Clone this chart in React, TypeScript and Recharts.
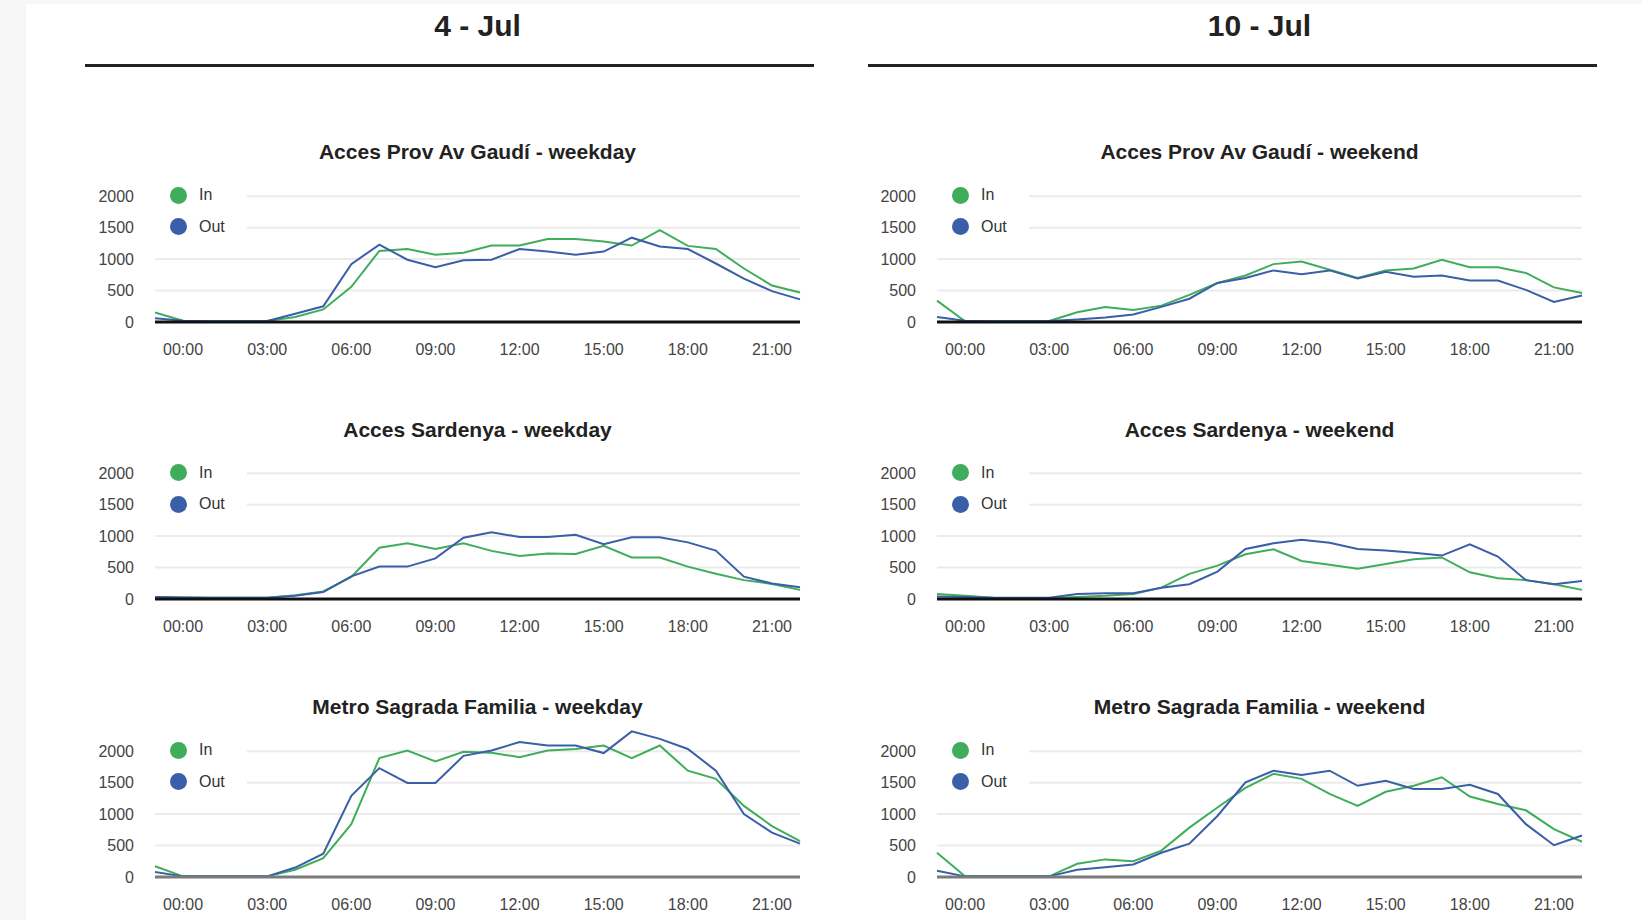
import React from "react";
import { LineChart, Line, XAxis, YAxis, CartesianGrid, Legend } from "recharts";

// hourly samples, first one is 23:00 of the previous day
const HOURS = [-1, 0, 1, 2, 3, 4, 5, 6, 7, 8, 9, 10, 11, 12, 13, 14, 15, 16, 17, 18, 19, 20, 21, 22];
const X_TICKS = [0, 3, 6, 9, 12, 15, 18, 21];
const Y_TICKS = [0, 500, 1000, 1500, 2000];
const DATES = ["4 - Jul", "10 - Jul"];

const GAUDI_WEEKDAY_IN = [150, 20, 10, 10, 15, 80, 200, 560, 1130, 1160, 1070, 1100, 1215, 1215, 1320, 1320, 1280, 1215, 1460, 1210, 1160, 850, 580, 470];
const GAUDI_WEEKDAY_OUT = [60, 20, 10, 10, 15, 130, 250, 920, 1230, 990, 870, 980, 990, 1160, 1120, 1070, 1120, 1340, 1200, 1160, 930, 690, 490, 360];
const GAUDI_WEEKEND_IN = [340, 10, 10, 10, 15, 155, 240, 190, 260, 430, 620, 740, 920, 960, 830, 700, 820, 850, 990, 870, 870, 780, 550, 460];
const GAUDI_WEEKEND_OUT = [80, 20, 10, 10, 15, 40, 70, 120, 240, 370, 620, 700, 820, 760, 820, 690, 800, 720, 740, 660, 660, 510, 320, 420];

const SARDENYA_WEEKDAY_IN = [30, 25, 20, 20, 20, 60, 120, 350, 815, 885, 795, 885, 765, 685, 725, 715, 845, 660, 660, 515, 400, 300, 240, 145];
const SARDENYA_WEEKDAY_OUT = [30, 25, 20, 20, 20, 50, 110, 360, 515, 515, 645, 975, 1060, 985, 985, 1020, 870, 980, 980, 900, 770, 355, 245, 185];
const SARDENYA_WEEKEND_IN = [80, 50, 20, 15, 15, 30, 50, 80, 180, 400, 530, 710, 790, 605, 545, 480, 555, 630, 660, 425, 330, 300, 235, 145];
const SARDENYA_WEEKEND_OUT = [40, 30, 20, 20, 20, 80, 90, 90, 180, 235, 435, 795, 885, 940, 895, 795, 770, 735, 690, 870, 675, 300, 235, 285];

const METRO_WEEKDAY_IN = [170, 10, 10, 10, 10, 115, 300, 840, 1890, 2010, 1835, 1990, 1975, 1905, 2010, 2035, 2090, 1890, 2090, 1690, 1560, 1130, 810, 570];
const METRO_WEEKDAY_OUT = [80, 10, 10, 10, 10, 150, 370, 1290, 1730, 1495, 1495, 1925, 2010, 2145, 2090, 2090, 1970, 2315, 2195, 2035, 1690, 1000, 705, 530];
const METRO_WEEKEND_IN = [385, 10, 10, 10, 10, 210, 280, 250, 420, 785, 1105, 1415, 1640, 1560, 1320, 1130, 1355, 1450, 1585, 1280, 1160, 1060, 760, 560];
const METRO_WEEKEND_OUT = [100, 10, 10, 10, 10, 115, 155, 200, 385, 530, 970, 1505, 1690, 1620, 1690, 1450, 1530, 1400, 1400, 1465, 1320, 840, 505, 660];

const GREEN = "#3fad5b";
const BLUE = "#3a5ea8";
const FONT = '"Liberation Sans", Arial, Helvetica, sans-serif';

// layout (px)
const PLOT_W = 645;
const PLOT_H = 151; // 0 .. 2400
const Y_MAX = 2400;
const AXIS_W = 75;
const M_TOP = 10;
const M_RIGHT = 20;
const X_AXIS_H = 40;
const COL_PLOT_LEFT = [155, 937];
const ROW_ZERO_Y = [321.5, 599, 876.5];

const CHARTS = [
    { title: "Acces Prov Av Gaudí - weekday", col: 0, row: 0, inData: GAUDI_WEEKDAY_IN, outData: GAUDI_WEEKDAY_OUT, base: "#111" },
    { title: "Acces Prov Av Gaudí - weekend", col: 1, row: 0, inData: GAUDI_WEEKEND_IN, outData: GAUDI_WEEKEND_OUT, base: "#111" },
    { title: "Acces Sardenya - weekday", col: 0, row: 1, inData: SARDENYA_WEEKDAY_IN, outData: SARDENYA_WEEKDAY_OUT, base: "#111" },
    { title: "Acces Sardenya - weekend", col: 1, row: 1, inData: SARDENYA_WEEKEND_IN, outData: SARDENYA_WEEKEND_OUT, base: "#111" },
    { title: "Metro Sagrada Familia - weekday", col: 0, row: 2, inData: METRO_WEEKDAY_IN, outData: METRO_WEEKDAY_OUT, base: "#7a7a7a" },
    { title: "Metro Sagrada Familia - weekend", col: 1, row: 2, inData: METRO_WEEKEND_IN, outData: METRO_WEEKEND_OUT, base: "#7a7a7a" },
];

const fmtHour = (h: number) => `${String(h).padStart(2, "0")}:00`;

function InOutLegend(props: any) {
    const { payload } = props;
    return (
        <div style={{ background: "#fff", width: 92 }}>
            {(payload || []).map((entry: any) => (
                <div key={entry.value} style={{ display: "flex", alignItems: "center", height: 31.4 }}>
                    <span
                        style={{
                            display: "inline-block",
                            width: 17,
                            height: 17,
                            borderRadius: "50%",
                            background: entry.color,
                            marginLeft: 14.5,
                            marginRight: 12.5,
                        }}
                    />
                    <span style={{ fontSize: 16, color: "#333", fontFamily: FONT }}>{entry.value}</span>
                </div>
            ))}
        </div>
    );
}

function Panel({ title, col, row, inData, outData, base }: any) {
    const rows = HOURS.map((hour, i) => ({ hour, In: inData[i], Out: outData[i] }));
    const plotLeft = COL_PLOT_LEFT[col];
    const zeroY = ROW_ZERO_Y[row];
    const top = zeroY - PLOT_H - M_TOP;
    const left = plotLeft - AXIS_W;
    const width = AXIS_W + PLOT_W + M_RIGHT;
    const height = M_TOP + PLOT_H + X_AXIS_H + 5;
    const line2000 = M_TOP + PLOT_H * (1 - 2000 / Y_MAX);

    return (
        <>
            <div
                style={{
                    position: "absolute",
                    left: plotLeft + PLOT_W / 2,
                    top: zeroY - 170 - 10.5,
                    transform: "translateX(-50%)",
                    fontSize: 21,
                    lineHeight: "21px",
                    fontWeight: "bold",
                    color: "#222",
                    whiteSpace: "nowrap",
                }}
            >
                {title}
            </div>
            <div style={{ position: "absolute", left, top }}>
                <LineChart
                    width={width}
                    height={height}
                    data={rows}
                    margin={{ top: M_TOP, right: M_RIGHT, bottom: 5, left: 0 }}
                >
                    <CartesianGrid vertical={false} horizontalValues={Y_TICKS} stroke="#ebebeb" strokeWidth={2} />
                    <XAxis
                        dataKey="hour"
                        type="number"
                        domain={[-1, 22]}
                        ticks={X_TICKS}
                        interval={0}
                        tickFormatter={fmtHour}
                        tick={{ fontSize: 16, fill: "#444" }}
                        tickLine={false}
                        tickSize={0}
                        tickMargin={22}
                        height={X_AXIS_H}
                        axisLine={{ stroke: base, strokeWidth: 3 }}
                    />
                    <YAxis
                        domain={[0, Y_MAX]}
                        ticks={Y_TICKS}
                        interval={0}
                        width={AXIS_W}
                        tick={{ fontSize: 16, fill: "#444" }}
                        tickLine={false}
                        tickSize={0}
                        tickMargin={21}
                        axisLine={false}
                    />
                    <Legend
                        layout="vertical"
                        align="center"
                        verticalAlign="middle"
                        content={<InOutLegend />}
                        wrapperStyle={{ left: AXIS_W, top: line2000 - 16, width: 92 }}
                    />
                    <Line dataKey="In" name="In" type="linear" stroke={GREEN} strokeWidth={2} dot={false} isAnimationActive={false} />
                    <Line dataKey="Out" name="Out" type="linear" stroke={BLUE} strokeWidth={2} dot={false} isAnimationActive={false} />
                </LineChart>
            </div>
        </>
    );
}

export default function App() {
    const headerCenters = [477.5, 1259.5];
    const ruleSpans = [
        [85, 814],
        [868, 1597],
    ];
    return (
        <div
            style={{
                position: "relative",
                width: 1642,
                height: 920,
                overflow: "hidden",
                background: "#f7f7f7",
                fontFamily: FONT,
            }}
        >
            <style>{"body{margin:0}"}</style>
            <div style={{ position: "absolute", left: 26, top: 4, right: 0, bottom: 0, background: "#fff" }} />
            {DATES.map((d, i) => (
                <React.Fragment key={d}>
                    <div
                        style={{
                            position: "absolute",
                            left: headerCenters[i],
                            top: 10.5,
                            transform: "translateX(-50%)",
                            fontSize: 30,
                            lineHeight: "30px",
                            fontWeight: "bold",
                            color: "#222",
                            whiteSpace: "nowrap",
                        }}
                    >
                        {d}
                    </div>
                    <div
                        style={{
                            position: "absolute",
                            left: ruleSpans[i][0],
                            width: ruleSpans[i][1] - ruleSpans[i][0],
                            top: 64,
                            height: 3,
                            background: "#222",
                        }}
                    />
                </React.Fragment>
            ))}
            {CHARTS.map((c) => (
                <Panel key={c.title} {...c} />
            ))}
        </div>
    );
}
